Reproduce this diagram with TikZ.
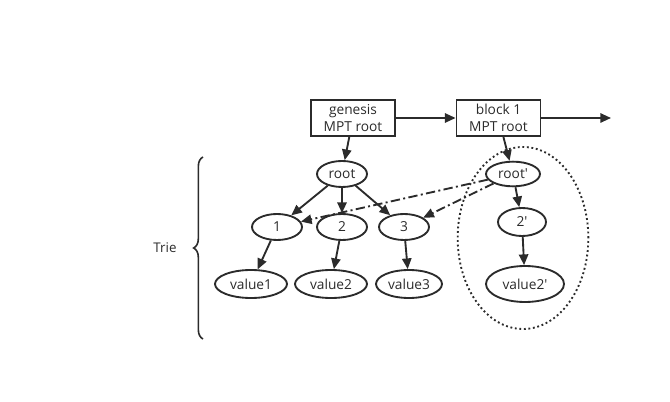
\documentclass[tikz,border=0pt]{standalone}
\usepackage{fontspec}
\setmainfont{Open Sans}
\usetikzlibrary{shapes.geometric,arrows.meta,decorations.pathreplacing}
\definecolor{ink}{HTML}{2B2B2B}
\begin{document}
\begin{tikzpicture}[x=0.75pt,y=-0.75pt,
  font=\fontsize{10.3pt}{12.3pt}\selectfont,
  line width=1.4pt, draw=ink, text=ink,
  box/.style={draw, rectangle, minimum width=63pt, minimum height=27pt, inner sep=0pt, align=center},
  oval/.style={draw, ellipse, inner sep=0pt},
  arr/.style={-{Triangle[length=8pt,width=7pt]}},
  dd/.style={arr, dash pattern=on 7pt off 2.5pt on 1.5pt off 2.5pt}]
\useasboundingbox (0,0) rectangle (670,402);
\node[box] (gen) at (353,118) {genesis\\MPT root};
\node[box] (blk) at (498.5,118) {block 1\\MPT root};
\coordinate (out) at (611,118);
\node[oval, minimum width=37.5pt, minimum height=19.5pt] (root) at (342,174) {root};
\node[oval, minimum width=37.5pt, minimum height=19.5pt] (n1) at (277,227) {1};
\node[oval, minimum width=37.5pt, minimum height=19.5pt] (n2) at (342,227) {2};
\node[oval, minimum width=37.5pt, minimum height=19.5pt] (n3) at (404,227) {3};
\node[oval, minimum width=54pt, minimum height=21pt] (v1) at (251,284) {value1};
\node[oval, minimum width=54pt, minimum height=21pt] (v2) at (331,284) {value2};
\node[oval, minimum width=49.5pt, minimum height=21pt] (v3) at (409,284) {value3};
\node[oval, minimum width=40.5pt, minimum height=18.5pt] (rootp) at (513,174) {root\textquotesingle};
\node[oval, minimum width=36pt, minimum height=21pt] (n2p) at (522,222) {2\textquotesingle};
\node[oval, minimum width=58.5pt, minimum height=27pt] (v2p) at (525,284) {value2\textquotesingle};
\node[draw, ellipse, dotted, line width=1.4pt, minimum width=98pt, minimum height=136.5pt, inner sep=0pt] (grp) at (523,238) {};
\draw[arr] (gen) -- (blk);
\draw[arr] (blk) -- (out);
\draw[arr] (gen) -- (root);
\draw[arr] (blk) -- (rootp);
\draw[arr] (root) -- (n1);
\draw[arr] (root) -- (n2);
\draw[arr] (root) -- (n3);
\draw[arr] (n1) -- (v1);
\draw[arr] (n2) -- (v2);
\draw[arr] (n3) -- (v3);
\draw[arr] (rootp) -- (n2p);
\draw[arr] (n2p) -- (v2p);
\draw[dd] (rootp) -- (n1);
\draw[dd] (rootp) -- (n3);
\coordinate (bb) at (203,339);
\coordinate (bt) at (203,157);
\draw[line width=1.2pt, decorate, decoration={brace, amplitude=7pt}] (bb) -- (bt);
\node[font=\fontsize{10pt}{12pt}\selectfont] (trie) at (165,248) {Trie};
\end{tikzpicture}
\end{document}
